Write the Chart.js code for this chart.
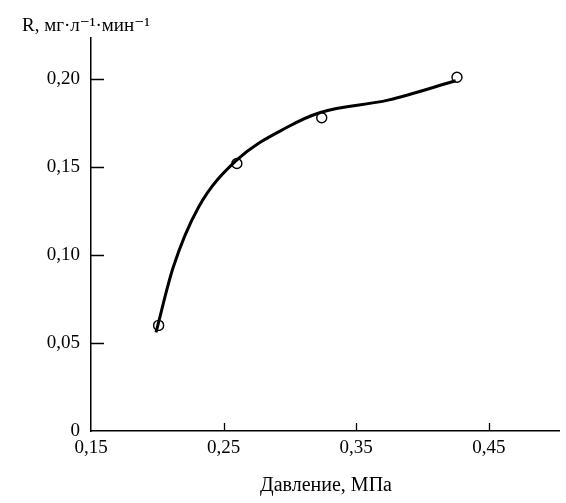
<!DOCTYPE html>
<html>
<head>
<meta charset="utf-8">
<script src="https://cdn.jsdelivr.net/npm/chart.js@4"></script>
<style>
  html, body { margin: 0; padding: 0; background: #fff; }
  #wrap { width: 566px; height: 503px; }
</style>
</head>
<body>
<div id="wrap"><canvas id="chart" width="566" height="503"></canvas></div>
<script>
// measured points
const pressure = [0.201, 0.260, 0.324, 0.426];
const rate = [0.060, 0.152, 0.178, 0.201];

// smoothed curve
const curveX = [0.199, 0.212, 0.231, 0.260, 0.299, 0.323, 0.374, 0.425];
const curveY = [0.056, 0.093, 0.127, 0.154, 0.173, 0.181, 0.188, 0.199];

const xTicks = [0.15, 0.25, 0.35, 0.45];
const yTicks = [0, 0.05, 0.10, 0.15, 0.20];

const serif = "'Liberation Serif', 'DejaVu Serif', serif";
Chart.defaults.font.family = serif;
Chart.defaults.color = "#000";

const fmt = v => v === 0 ? "0" : v.toFixed(2).replace(".", ",");

const toXY = (xs, ys) => xs.map((x, i) => ({ x: x, y: ys[i] }));

// inward tick marks + axis titles
const extras = {
    id: "extras",
    afterDraw(chart) {
        const ctx = chart.ctx;
        const xs = chart.scales.x;
        const ys = chart.scales.y;
        const area = chart.chartArea;
        ctx.save();
        ctx.strokeStyle = "#000";
        ctx.lineWidth = 1.3;
        ctx.beginPath();
        yTicks.forEach(v => {
            if (v === 0) return;
            const py = Math.round(ys.getPixelForValue(v)) + 0.5;
            ctx.moveTo(area.left, py);
            ctx.lineTo(area.left + 13, py);
        });
        xTicks.forEach(v => {
            if (v === 0.15) return;
            const px = Math.round(xs.getPixelForValue(v)) + 0.5;
            ctx.moveTo(px, area.bottom);
            ctx.lineTo(px, area.bottom - 8);
        });
        ctx.stroke();

        ctx.fillStyle = "#000";
        ctx.textBaseline = "middle";
        ctx.font = "20px " + serif;
        ctx.textAlign = "center";
        ctx.fillText("Давление, МПа", 326, 486);
        ctx.font = "19px " + serif;
        ctx.textAlign = "left";
        ctx.fillText("R, мг·л⁻¹·мин⁻¹", 22, 26);
        ctx.restore();
    }
};

new Chart(document.getElementById("chart"), {
    type: "scatter",
    data: {
        datasets: [
            {
                label: "curve",
                data: toXY(curveX, curveY),
                showLine: true,
                borderColor: "#000",
                borderWidth: 3,
                pointRadius: 0,
                tension: 0.4,
                cubicInterpolationMode: "monotone"
            },
            {
                label: "points",
                data: toXY(pressure, rate),
                showLine: false,
                pointRadius: 5,
                pointBackgroundColor: "#fff",
                pointBorderColor: "#000",
                pointBorderWidth: 1.4
            }
        ]
    },
    options: {
        responsive: false,
        animation: false,
        layout: { padding: { top: 38, right: 0, left: 0, bottom: 0 } },
        plugins: {
            legend: { display: false },
            tooltip: { enabled: false }
        },
        scales: {
            x: {
                type: "linear",
                min: 0.15,
                max: 0.5034,
                afterBuildTicks: s => { s.ticks = xTicks.map(v => ({ value: v })); },
                afterFit: s => { s.height = 72; },
                grid: { display: false, drawTicks: false },
                border: { color: "#000", width: 1.5 },
                ticks: {
                    padding: 6,
                    font: { size: 19 },
                    maxRotation: 0,
                    autoSkip: false,
                    callback: v => fmt(v)
                }
            },
            y: {
                type: "linear",
                min: 0,
                max: 0.2233,
                afterBuildTicks: s => { s.ticks = yTicks.map(v => ({ value: v })); },
                afterFit: s => { s.width = 91; },
                grid: { display: false, drawTicks: false },
                border: { color: "#000", width: 1.5 },
                ticks: {
                    padding: 11,
                    font: { size: 19 },
                    autoSkip: false,
                    callback: v => fmt(v)
                }
            }
        }
    },
    plugins: [extras]
});
</script>
</body>
</html>
